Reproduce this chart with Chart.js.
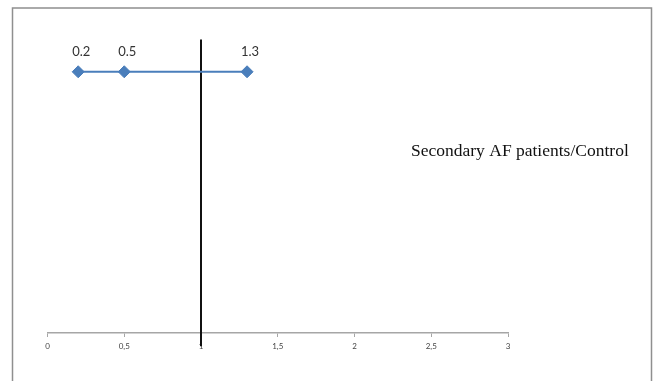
<!DOCTYPE html>
<html>
<head>
<meta charset="utf-8">
<script src="https://cdn.jsdelivr.net/npm/chart.js@4"></script>
<style>
  html, body { margin: 0; padding: 0; background: #ffffff; }
  #wrap { position: relative; width: 654px; height: 381px; }
  canvas { display: block; }
</style>
</head>
<body>
<div id="wrap"><canvas id="c" width="654" height="381"></canvas></div>
<script>
// Data
const ratioValues = [0.2, 0.5, 1.3];          // x positions of the markers
const ratioLabels = ['0.2', '0.5', '1.3'];    // labels shown above markers
const rowLevel = [8.9, 8.9, 8.9];             // y level of the series row
const refLineX = [1, 1];                      // reference line at ratio = 1
const refLineY = [-0.45, 10];
const xTicks = [0, 0.5, 1, 1.5, 2, 2.5, 3];
const xTickLabels = ['0', '0,5', '1', '1,5', '2', '2,5', '3'];
const seriesName = 'Secondary AF patients/Control';

const seriesPoints = ratioValues.map((v, i) => ({ x: v, y: rowLevel[i] }));
const refPoints = refLineX.map((v, i) => ({ x: v, y: refLineY[i] }));

const framePlugin = {
  id: 'frame',
  beforeDraw(chart) {
    const ctx = chart.ctx;
    ctx.save();
    ctx.fillStyle = '#ffffff';
    ctx.fillRect(0, 0, chart.width, chart.height);
    ctx.strokeStyle = '#8f8f8f';
    ctx.lineWidth = 1.5;
    ctx.beginPath();
    ctx.moveTo(12.5, 390);
    ctx.lineTo(12.5, 8);
    ctx.lineTo(651.5, 8);
    ctx.lineTo(651.5, 390);
    ctx.stroke();
    ctx.restore();
  },
  afterDatasetsDraw(chart) {
    const ctx = chart.ctx;
    const meta = chart.getDatasetMeta(1);
    ctx.save();
    ctx.font = '13px Lato, "Open Sans", sans-serif';
    ctx.fillStyle = '#333333';
    ctx.textAlign = 'center';
    ctx.textBaseline = 'middle';
    meta.data.forEach((pt, i) => {
      ctx.fillText(ratioLabels[i], pt.x + 3, pt.y - 20);
    });
    ctx.font = '17.5px "Liberation Serif", "Times New Roman", serif';
    ctx.fillStyle = '#111111';
    ctx.textAlign = 'left';
    ctx.fillText(seriesName, 411, 151);
    ctx.restore();
  }
};

new Chart(document.getElementById('c'), {
  type: 'scatter',
  data: {
    datasets: [
      {
        label: 'Reference',
        data: refPoints,
        showLine: true,
        borderColor: '#111111',
        borderWidth: 2,
        pointRadius: 0,
        clip: false,
        order: 2
      },
      {
        label: seriesName,
        data: seriesPoints,
        showLine: true,
        borderColor: '#4a7ebb',
        backgroundColor: '#4a7ebb',
        borderWidth: 2,
        pointStyle: 'rectRot',
        pointRadius: 6,
        pointBorderWidth: 1,
        pointBackgroundColor: '#4a7ebb',
        pointBorderColor: '#4a7ebb',
        clip: false,
        order: 1
      }
    ]
  },
  options: {
    responsive: false,
    animation: false,
    devicePixelRatio: 1,
    layout: { padding: { left: 47.5, right: 146, top: 39.5, bottom: 0 } },
    plugins: {
      legend: { display: false },
      tooltip: { enabled: false }
    },
    scales: {
      x: {
        type: 'linear',
        min: 0,
        max: 3,
        afterBuildTicks(scale) {
          scale.ticks = xTicks.map(v => ({ value: v }));
        },
        afterFit(scale) { scale.height = 48; },
        grid: {
          drawOnChartArea: false,
          drawTicks: true,
          tickLength: 4,
          tickColor: '#a6a6a6',
          tickWidth: 1
        },
        border: { display: true, color: '#a6a6a6', width: 1.5 },
        ticks: {
          padding: 5,
          color: '#444444',
          font: { size: 8, family: 'Lato, "Open Sans", sans-serif' },
          maxRotation: 0,
          autoSkip: false,
          callback(value) {
            const i = xTicks.indexOf(value);
            return i >= 0 ? xTickLabels[i] : '';
          }
        }
      },
      y: {
        type: 'linear',
        min: 0,
        max: 10,
        display: false
      }
    }
  },
  plugins: [framePlugin]
});
</script>
</body>
</html>
